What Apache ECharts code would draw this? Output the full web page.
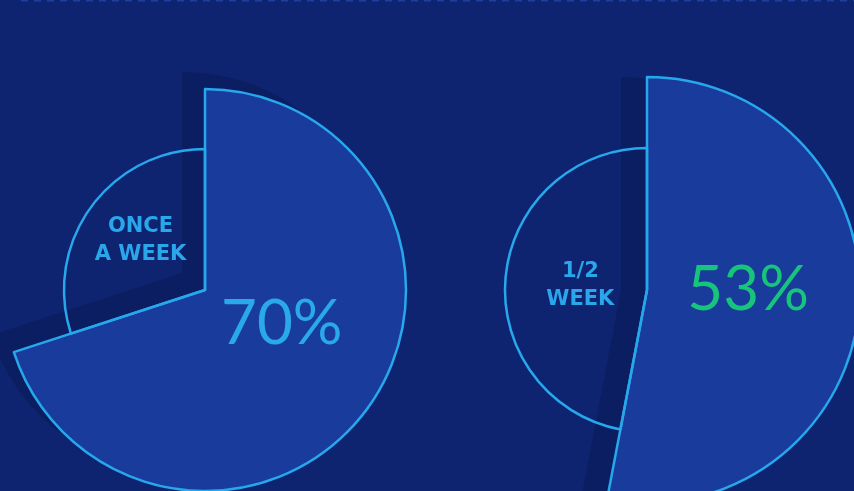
<!DOCTYPE html>
<html><head><meta charset="utf-8">
<script src="https://cdn.jsdelivr.net/npm/echarts@6/dist/echarts.min.js"></script>
<style>html,body{margin:0;padding:0;background:#0f2470;}#c{width:854px;height:491px;}</style>
</head><body><div id="c"></div>
<script>
const categories = ['ONCE\nA WEEK', '1/2\nWEEK'];
const shares = [70, 53];
const valueColors = ['#2aa8ec', '#17c47c'];

const BG = '#0f2470', FILL = '#183b9c', LINE = '#27a8ec', SHADOW = '#0c1e62';
const layouts = [
  {center: [205, 290], big: 201, small: 141, shadow: [-23, -17], valPad: [0, 14, 54, 0], catPad: [0, 10, 12, 0]},
  {center: [647, 290], big: 213, small: 142, shadow: [-26, 0], valPad: [0, 16, 20, 0], catPad: [6, 0, 0, 14]}
];
const series = [];
shares.forEach((s, i) => {
  const L = layouts[i];
  const base = {type: 'pie', startAngle: 90, clockwise: true, silent: true, animation: false,
    label: {show: false}, labelLine: {show: false}};
  series.push(Object.assign({}, base, {
    center: [L.center[0] + L.shadow[0], L.center[1] + L.shadow[1]], radius: [0, L.big],
    data: [
      {value: s, name: 's' + i, itemStyle: {color: SHADOW, borderWidth: 0}},
      {value: 100 - s, name: 'sr' + i, itemStyle: {color: 'transparent', borderWidth: 0}}
    ]
  }));
  series.push(Object.assign({}, base, {
    center: L.center, radius: [0, L.big],
    data: [
      {value: s, name: 'v' + i,
        itemStyle: {color: FILL, borderColor: LINE, borderWidth: 2.5},
        label: {show: true, position: 'inside', formatter: '{v|' + s + '%}',
          rich: {v: {color: valueColors[i], fontFamily: 'Lato', fontSize: 62, fontWeight: 'normal', padding: L.valPad}}}},
      {value: 100 - s, name: 'r' + i, itemStyle: {color: 'transparent', borderWidth: 0}}
    ]
  }));
  const lines = categories[i].split('\n');
  series.push(Object.assign({}, base, {
    center: L.center, radius: [0, L.small],
    data: [
      {value: s, name: 'x' + i, itemStyle: {color: 'transparent', borderWidth: 0}},
      {value: 100 - s, name: categories[i],
        itemStyle: {color: 'transparent', borderColor: LINE, borderWidth: 2.5},
        label: {show: true, position: 'inside',
          formatter: '{c|' + lines.join('}\n{c|') + '}',
          padding: L.catPad,
          rich: {c: {color: '#2aa6ea', fontFamily: 'DejaVu Sans', fontSize: 21, fontWeight: 'bold', lineHeight: 28, align: 'center'}}}}
    ]
  }));
});

const chart = echarts.init(document.getElementById('c'), null, {renderer: 'canvas'});
chart.setOption({
  backgroundColor: BG,
  animation: false,
  graphic: [{type: 'line', shape: {x1: 21, y1: 0.5, x2: 854, y2: 0.5},
    style: {stroke: '#1f3f9e', lineWidth: 2, lineDash: [7, 6]}, silent: true}],
  series: series
});
</script></body></html>
